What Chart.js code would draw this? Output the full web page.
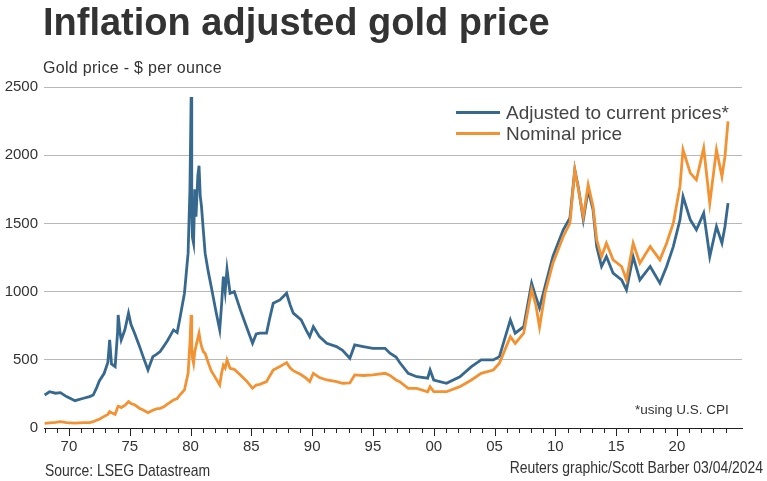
<!DOCTYPE html>
<html>
<head>
<meta charset="utf-8">
<script src="https://cdn.jsdelivr.net/npm/chart.js@4.4.1/dist/chart.umd.min.js"></script>
<style>
  body { margin: 0; background: #fff; }
  #wrap { position: relative; width: 767px; height: 481px; overflow: hidden; font-family: "Liberation Sans", Arial, sans-serif; color: #333; }
  #chart { position: absolute; left: 0; top: 0; }
  .txt { position: absolute; white-space: nowrap; line-height: 1; }
  #title { left: 43px; top: 3px; font-size: 38px; font-weight: bold; color: #333; }
  #subtitle { left: 43px; top: 60px; font-size: 16px; letter-spacing: 0.3px; }
  .leg { font-size: 19px; color: #444; }
  .swatch { position: absolute; width: 44px; height: 3px; }
  #foot { left: 635px; top: 403px; font-size: 13.5px; color: #333; }
  .narrow { font-size: 17px; color: #333; transform: scaleX(0.82); }
  #source { left: 45px; top: 462px; transform-origin: left center; }
  #credit { right: 4px; top: 459px; transform-origin: right center; }
</style>
</head>
<body>
<div id="wrap">
  <canvas id="chart" width="767" height="481"></canvas>
  <div class="txt" id="title">Inflation adjusted gold price</div>
  <div class="txt" id="subtitle">Gold price - $ per ounce</div>
  <div class="swatch" style="left:456px; top:111px; background:#37698f;"></div>
  <div class="txt leg" style="left:506px; top:103px;">Adjusted to current prices*</div>
  <div class="swatch" style="left:456px; top:132px; background:#f39232;"></div>
  <div class="txt leg" style="left:506px; top:124px;">Nominal price</div>
  <div class="txt" id="foot">*using U.S. CPI</div>
  <div class="txt narrow" id="source">Source: LSEG Datastream</div>
  <div class="txt narrow" id="credit">Reuters graphic/Scott Barber 03/04/2024</div>
</div>
<script>
// years as decimal dates
const years = [
    1968.0, 1968.4, 1968.9, 1969.3, 1969.8, 1970.5, 1971.2, 1971.7, 1972.0, 1972.3,
    1972.5, 1972.9, 1973.2, 1973.35, 1973.5, 1973.8, 1974.0, 1974.05, 1974.2, 1974.3,
    1974.6, 1974.9, 1975.1, 1975.4, 1975.8, 1976.1, 1976.5, 1976.9, 1977.2, 1977.5,
    1977.8, 1978.1, 1978.6, 1978.9, 1979.1, 1979.5, 1979.8, 1979.95, 1980.05, 1980.1,
    1980.15, 1980.25, 1980.35, 1980.45, 1980.6, 1980.7, 1980.8, 1980.9, 1981.05, 1981.2,
    1981.45, 1981.7, 1982.1, 1982.4, 1982.55, 1982.7, 1982.85, 1983.0, 1983.25, 1983.6,
    1984.1, 1984.6, 1985.1, 1985.4, 1985.7, 1986.25, 1986.5, 1986.8, 1987.35, 1987.9,
    1988.2, 1988.45, 1989.1, 1989.5, 1989.8, 1990.1, 1990.6, 1991.2, 1992.0, 1992.5,
    1993.1, 1993.5, 1994.2, 1995.0, 1996.0, 1996.4, 1996.9, 1997.2, 1997.9, 1998.6,
    1999.5, 1999.7, 2000.0, 2001.05, 2002.15, 2003.1, 2003.9, 2004.9, 2005.4, 2006.3,
    2006.7, 2007.4, 2008.05, 2008.4, 2008.7, 2009.15, 2009.8, 2010.65, 2011.2, 2011.6,
    2011.9, 2012.3, 2012.7, 2013.1, 2013.4, 2013.8, 2014.2, 2014.75, 2015.45, 2015.85,
    2016.4, 2016.95, 2017.8, 2018.6, 2019.15, 2019.7, 2020.25, 2020.5, 2021.1, 2021.6,
    2022.2, 2022.7, 2023.25, 2023.7, 2023.95, 2024.2
];

const adjusted = [
    242, 266, 255, 259, 230, 200, 218, 230, 242, 300,
    345, 401, 480, 646, 470, 450, 700, 829, 700, 646,
    720, 842, 760, 695, 600, 523, 425, 523, 540, 560,
    600, 640, 719, 700, 792, 988, 1282, 1750, 2427, 1600,
    1400, 1355, 1750, 1550, 1850, 1923, 1700, 1624, 1450, 1282,
    1150, 1037, 850, 719, 900, 1110, 1000, 1164, 988, 1000,
    866, 743, 621, 690, 695, 695, 800, 915, 939, 988,
    900, 842, 792, 720, 670, 743, 670, 621, 597, 570,
    511, 609, 597, 584, 584, 548, 520, 480, 401, 376,
    365, 425, 352, 328, 376, 450, 499, 499, 523, 792,
    695, 743, 1062, 960, 880, 1037, 1257, 1453, 1540, 1893,
    1760, 1526, 1746, 1600, 1330, 1184, 1257, 1135, 1086, 1013,
    1257, 1086, 1184, 1062, 1184, 1330, 1526, 1697, 1526, 1453,
    1575, 1257, 1477, 1355, 1477, 1649
];

const nominal = [
    34, 38, 42, 46, 40, 36, 39, 40, 46, 58,
    64, 85, 100, 120, 112, 100, 150, 160, 155, 150,
    165, 193, 180, 170, 145, 132, 112, 130, 140, 144,
    155, 175, 205, 215, 240, 279, 401, 620, 829, 600,
    520, 475, 560, 600, 660, 695, 640, 600, 560, 548,
    480, 420, 360, 316, 400, 460, 440, 499, 438, 430,
    389, 345, 291, 315, 320, 340, 380, 425, 450, 479,
    440, 420, 390, 365, 340, 401, 370, 352, 340, 328,
    330, 389, 385, 389, 401, 385, 352, 340, 291, 291,
    265, 303, 266, 266, 303, 352, 401, 425, 475, 670,
    620, 695, 1013, 900, 740, 988, 1208, 1404, 1502, 1893,
    1746, 1551, 1783, 1624, 1380, 1257, 1355, 1233, 1184, 1086,
    1355, 1208, 1330, 1233, 1355, 1502, 1771, 2040, 1869, 1820,
    2052, 1649, 2040, 1844, 1991, 2248
];

const yTicks = [0, 500, 1000, 1500, 2000, 2500];
const yearTicks = [];
for (let y = 1968; y <= 2024; y++) yearTicks.push(y);

const toPoints = vals => years.map((x, i) => ({ x: x, y: vals[i] }));

// axis tick marks, longer every five years
const tickMarks = {
    id: 'tickMarks',
    afterDraw(chart) {
        const xs = chart.scales.x;
        const ctx = chart.ctx;
        const y0 = chart.chartArea.bottom;
        ctx.save();
        ctx.strokeStyle = '#222';
        ctx.lineWidth = 1;
        yearTicks.forEach(yr => {
            const px = Math.round(xs.getPixelForValue(yr)) + 0.5;
            const len = yr % 5 === 0 ? 8 : 5;
            ctx.beginPath();
            ctx.moveTo(px, y0);
            ctx.lineTo(px, y0 + len);
            ctx.stroke();
        });
        ctx.restore();
    }
};

new Chart(document.getElementById('chart'), {
    type: 'line',
    data: {
        datasets: [
            {
                label: 'Nominal price',
                data: toPoints(nominal),
                borderColor: '#f39232',
                borderWidth: 2.8,
                pointRadius: 0,
                tension: 0,
                order: 0
            },
            {
                label: 'Adjusted to current prices*',
                data: toPoints(adjusted),
                borderColor: '#37698f',
                borderWidth: 2.8,
                pointRadius: 0,
                tension: 0,
                order: 1
            }
        ]
    },
    options: {
        responsive: false,
        animation: false,
        devicePixelRatio: 1,
        layout: { padding: { left: 0, top: 87, right: 25, bottom: 0 } },
        plugins: { legend: { display: false }, tooltip: { enabled: false } },
        scales: {
            x: {
                type: 'linear',
                min: 1967.95,
                max: 2025.35,
                afterBuildTicks: s => { s.ticks = yearTicks.map(v => ({ value: v })); },
                afterFit: s => { s.height = 53; },
                grid: { display: true, drawOnChartArea: false, drawTicks: true, tickLength: 6, tickColor: 'rgba(0,0,0,0)' },
                border: { display: true, color: '#222', width: 1 },
                ticks: {
                    autoSkip: false,
                    maxRotation: 0,
                    padding: 4,
                    color: '#333',
                    font: { family: '"Liberation Sans", Arial, sans-serif', size: 15 },
                    callback: v => (v % 5 === 0 ? String(v % 100).padStart(2, '0') : '')
                }
            },
            y: {
                min: 0,
                max: 2500,
                afterBuildTicks: s => { s.ticks = yTicks.map(v => ({ value: v })); },
                afterFit: s => { s.width = 44; },
                grid: {
                    drawTicks: false,
                    color: ctx => (ctx.tick && ctx.tick.value === 0 ? 'rgba(0,0,0,0)' : '#b8b8b8')
                },
                border: { display: false },
                ticks: {
                    padding: 6,
                    color: '#333',
                    font: { family: '"Liberation Sans", Arial, sans-serif', size: 15 },
                    callback: v => String(v)
                }
            }
        }
    },
    plugins: [tickMarks]
});
</script>
</body>
</html>
